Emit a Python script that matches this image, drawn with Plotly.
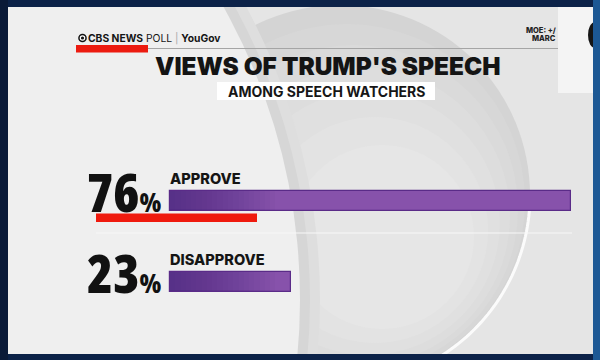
import numpy as np
import plotly.graph_objects as go

# ---- data ----
categories = ["APPROVE", "DISAPPROVE"]
values = [76, 23]
title_text = "VIEWS OF TRUMP'S SPEECH"
subtitle_text = "AMONG SPEECH WATCHERS"
source_bold = "CBS NEWS"
source_rest = "POLL"
partner = "YouGov"
moe_lines = ["MOE: +/", "MARC"]

# ---- layout geometry (pixels) ----
W, H = 600, 360
X0 = 170.0
PXU = 400.6 / 76.0
Y0 = 200.5
DY = 81.2
BAR_PX = 20.0


def px(x):
    return x / W


def py(y):
    return 1 - y / H


fig = go.Figure()
bar_color = "#8752ab"
fig.add_trace(go.Bar(
    x=values, y=categories, orientation="h", width=BAR_PX / DY,
    marker=dict(color=bar_color, line=dict(color="#5a2b88", width=1.2)),
    hoverinfo="skip", showlegend=False,
))
# soft dark shading near the bar base (imitates the gradient)
for k in range(1, 21):
    fig.add_trace(go.Bar(
        x=[min(v, k) for v in values], y=categories, orientation="h",
        width=(BAR_PX - 1.5) / DY,
        marker=dict(color="rgba(60,18,100,0.035)", line=dict(width=0)),
        hoverinfo="skip", showlegend=False,
    ))

shapes = []
shapes.append(dict(type="rect", xref="paper", yref="paper", layer="below",
                   x0=px(8), x1=px(593), y0=py(7), y1=py(354),
                   fillcolor="#e5e5e5", line=dict(width=0)))


def circ(cx, cy, r, fill, line=None, lw=0):
    return dict(type="circle", xref="paper", yref="paper", layer="below",
                x0=px(cx - r), x1=px(cx + r), y0=py(cy + r), y1=py(cy - r),
                fillcolor=fill, line=dict(color=line or fill, width=lw))


shapes.append(circ(340, 195, 190, "#d4d4d4"))
shapes.append(circ(347, 202, 178, "#d7d7d7"))
shapes.append(circ(354, 209, 164, "#dadada"))
shapes.append(circ(361, 216, 149, "#dddddd"))
shapes.append(circ(368, 223, 132, "#e0e0e0"))
shapes.append(circ(375, 230, 113, "#e3e3e3"))
shapes.append(circ(382, 237, 92, "#e6e6e6"))
t = np.radians(np.linspace(2, 62, 40))
pts = [(340 + 190 * np.cos(a), 195 + 190 * np.sin(a)) for a in t]
path = "M " + " L ".join(f"{px(x):.5f},{py(y):.5f}" for x, y in pts)
shapes.append(dict(type="path", xref="paper", yref="paper", layer="below",
                   path=path, line=dict(color="#fbfbfb", width=3)))
shapes.append(circ(-300, 300, 620, "#dedede"))
shapes.append(circ(-300, 300, 610, "#d6d6d6"))
shapes.append(circ(-300, 300, 600, "#efefef"))

shapes.append(dict(type="rect", xref="paper", yref="paper", layer="below",
                   x0=px(76), x1=px(148), y0=py(52.5), y1=py(45),
                   fillcolor="#ec1b10", line=dict(width=0)))
shapes.append(dict(type="line", xref="paper", yref="paper", layer="below",
                   x0=px(148), x1=px(560), y0=py(48.5), y1=py(48.5),
                   line=dict(color="#a5a5a5", width=1)))
shapes.append(circ(82.5, 38, 4.3, "#111111"))
shapes.append(circ(82.5, 38, 2.8, "#ffffff"))
shapes.append(circ(82.5, 38, 1.6, "#111111"))
shapes.append(dict(type="rect", xref="paper", yref="paper", layer="below",
                   x0=px(217), x1=px(435), y0=py(100), y1=py(82),
                   fillcolor="#ffffff", line=dict(width=0)))
shapes.append(dict(type="line", xref="paper", yref="paper", layer="below",
                   x0=px(96), x1=px(572), y0=py(233), y1=py(233),
                   line=dict(color="#f7f7f7", width=1.2)))
shapes.append(dict(type="rect", xref="paper", yref="paper", layer="below",
                   x0=px(96), x1=px(257), y0=py(222), y1=py(213.5),
                   fillcolor="#ef1a0e", line=dict(width=0)))
shapes.append(dict(type="rect", xref="paper", yref="paper", layer="above",
                   x0=px(558), x1=px(593), y0=py(93), y1=py(7),
                   fillcolor="#f4f4f4", line=dict(width=0)))
shapes.append(dict(type="circle", xref="paper", yref="paper", layer="above",
                   x0=px(588), x1=px(602), y0=py(48), y1=py(22),
                   fillcolor="#151515", line=dict(width=0)))
frame = "#0c2248"
shapes.append(dict(type="rect", xref="paper", yref="paper", layer="above",
                   x0=0, x1=px(8), y0=0, y1=1, fillcolor="#0a1a38", line=dict(width=0)))
shapes.append(dict(type="rect", xref="paper", yref="paper", layer="above",
                   x0=px(593), x1=1, y0=0, y1=1, fillcolor="#1c5894", line=dict(width=0)))
shapes.append(dict(type="rect", xref="paper", yref="paper", layer="above",
                   x0=px(8), x1=px(593), y0=py(7), y1=1, fillcolor=frame, line=dict(width=0)))
shapes.append(dict(type="rect", xref="paper", yref="paper", layer="above",
                   x0=px(8), x1=px(593), y0=0, y1=py(354), fillcolor=frame, line=dict(width=0)))

ann = []
GEO = "Inter, Lato, 'Noto Sans', sans-serif"
NARROW = "'Open Sans', 'DejaVu Sans Condensed', sans-serif"

for c, v in zip(categories, values):
    ann.append(dict(
        xref="x", yref="y", x=0, y=c, xanchor="right", yanchor="middle",
        xshift=-7, yshift=9,
        text=f"<span style='font-stretch:75%'>{v}<span style='font-size:26px'>%</span></span>",
        showarrow=False,
        font=dict(family=NARROW, size=53, color="#111111", weight=800),
    ))
    ann.append(dict(
        xref="x", yref="y", x=0, y=c, xanchor="left", yanchor="middle",
        xshift=-2, yshift=22,
        text=c, showarrow=False,
        font=dict(family=GEO, size=14.6, color="#151515", weight=800),
    ))

ann.append(dict(xref="paper", yref="paper", x=px(327), y=py(66), xanchor="center",
                yanchor="middle", text=title_text, showarrow=False,
                font=dict(family=GEO, size=24.4, color="#141414", weight=900)))
ann.append(dict(xref="paper", yref="paper", x=px(326), y=py(91), xanchor="center",
                yanchor="middle", text=subtitle_text, showarrow=False,
                font=dict(family=GEO, size=14, color="#161616", weight=700)))
ann.append(dict(xref="paper", yref="paper", x=px(86), y=py(38.5), xanchor="left",
                yanchor="middle",
                text=f"<b>{source_bold}</b> {source_rest} <span style='color:#aaaaaa'>|</span> <b>{partner}</b>",
                showarrow=False,
                font=dict(family=GEO, size=10.3, color="#151515")))
for i, tx in enumerate(moe_lines):
    ann.append(dict(xref="paper", yref="paper", x=px(558), y=py(30.5 + 8 * i),
                    xanchor="right", yanchor="middle", text=tx, showarrow=False,
                    font=dict(family=GEO, size=7.5, color="#222222", weight=800)))

fig.update_layout(
    width=W, height=H, margin=dict(l=0, r=0, t=0, b=0),
    paper_bgcolor=frame, plot_bgcolor="rgba(0,0,0,0)",
    barmode="overlay", bargap=0,
    shapes=shapes, annotations=ann,
    xaxis=dict(range=[-X0 / PXU, (W - X0) / PXU], visible=False, fixedrange=True),
    yaxis=dict(range=[(H - Y0) / DY, -Y0 / DY], visible=False, fixedrange=True,
               categoryorder="array", categoryarray=categories),
    showlegend=False,
)

fig.write_html("out.html", config={"displayModeBar": False},
               post_script="document.body.style.margin='0px';")
